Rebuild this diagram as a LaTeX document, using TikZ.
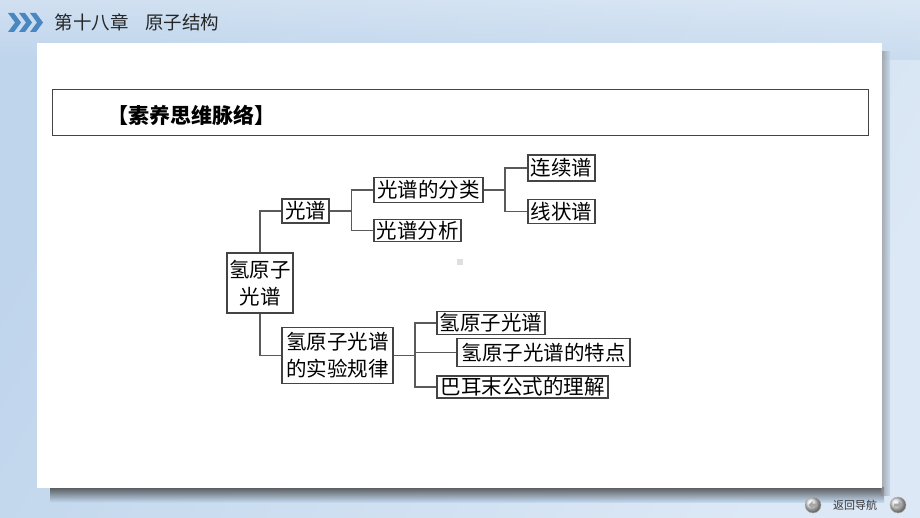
\documentclass[tikz,border=0pt]{standalone}
\usepackage{fontspec}
\setmainfont{Noto Sans CJK SC}
\usetikzlibrary{calc}
\definecolor{bgA}{HTML}{BFD5EC}
\definecolor{bgB}{HTML}{DCE8F5}
\definecolor{boxline}{HTML}{444444}
\definecolor{conn}{HTML}{5A5A5A}
\definecolor{chev}{HTML}{4A86C0}
\tikzset{
  kbox/.style={draw=boxline, line width=1.1pt, fill=white, inner sep=0pt, align=center,
     font=\fontsize{20.5}{27}\selectfont, text=black},
  link/.style={draw=conn, line width=1.1pt},
  chevron/.style={fill=chev},
  navbtn/.style={circle, minimum size=16pt, inner sep=0pt, ball color=gray!25, draw=gray!60, line width=0.4pt}
}
\begin{document}
\begin{tikzpicture}[x=1pt,y=-1pt]
\useasboundingbox (0,0) rectangle (920,518);
% background
\shade[left color=bgA, right color=bgB, shading angle=60] (0,0) rectangle (920,518);
\shade[top color=bgB, bottom color=bgA, opacity=0.6] (0,0) rectangle (920,60);
% panel shadow
\shade[top color=black!75, bottom color=bgA, opacity=0.85] (50,487) rectangle (884,502);
\shade[left color=black!45, right color=bgA, opacity=0.7] (881,52) rectangle (890,495);
% white panel
\fill[white] (37,43) rectangle (882,488);
% header chevrons
\foreach \dx in {0,11,22}{
  \fill[chevron] ($(8,13)+(\dx,0)$) -- ++(6,0) -- ++(7,9.5) -- ++(-7,9.5) -- ++(-6,0) -- ++(7,-9.5) -- cycle;
}
\node[anchor=west, font=\fontsize{18.5}{21}\selectfont, text=black!85] (hdr) at (51,22) {第十八章\hspace{0.9em}原子结构};
% title box
\node[draw=boxline, line width=1pt, minimum width=816pt, minimum height=46pt, inner sep=0pt] (tbox) at (460,113) {};
\node[anchor=west, font=\fontsize{21}{24}\selectfont\bfseries] (title) at (104,115) {【素养思维脉络】};
% nodes
\node[kbox, minimum width=47pt, minimum height=24pt] (guang) at (305.5,211) {光谱};
\node[kbox, minimum width=109pt, minimum height=25pt] (fenlei) at (428.5,190) {光谱的分类};
\node[kbox, minimum width=87pt, minimum height=22pt] (fenxi) at (417.5,230.5) {光谱分析};
\node[kbox, minimum width=67pt, minimum height=26pt] (lianxu) at (561.5,168) {连续谱};
\node[kbox, minimum width=67pt, minimum height=24pt] (xian) at (561.5,211.3) {线状谱};
\node[kbox, minimum width=66pt, minimum height=60pt] (hyd) at (260,283) {氢原子\\光谱};
\node[kbox, minimum width=111pt, minimum height=56pt] (rule) at (337.5,355.3) {氢原子光谱\\的实验规律};
\node[kbox, minimum width=108pt, minimum height=23pt] (hA) at (491,323) {氢原子光谱};
\node[kbox, minimum width=173pt, minimum height=28pt] (hB) at (543.5,352.5) {氢原子光谱的特点};
\node[kbox, minimum width=171pt, minimum height=22pt] (hC) at (522.5,387) {巴耳末公式的理解};
% junctions
\coordinate (j1) at (351.7,211);
\coordinate (j2) at (505,190);
\coordinate (j3) at (415,355.3);
% connectors
\draw[link] (guang.west) -| (hyd.north);
\draw[link] (hyd.south) |- (rule.west);
\draw[link] (guang.east) -- (j1);
\draw[link] (j1) |- (fenlei.west);
\draw[link] (j1) |- (fenxi.west);
\draw[link] (fenlei.east) -- (j2);
\draw[link] (j2) |- (lianxu.west);
\draw[link] (j2) |- (xian.west);
\draw[link] (rule.east) -- (j3);
\draw[link] (j3) |- (hA.west);
\draw[link] (j3) |- (hB.west);
\draw[link] (j3) |- (hC.west);
% small gray mark
\fill[gray!25] (457,259.5) rectangle (462.5,265);
% navigation
\node[navbtn] (prev) at (813,505) {};
\fill[gray!70] ($(prev)+(-4.5,0)$) -- ++(4,-4) -- ++(0,2.5) -- ++(4.5,0) -- ++(0,3) -- ++(-4.5,0) -- ++(0,2.5) -- cycle;
\node[font=\fontsize{11}{13}\selectfont, text=black!80] (navtxt) at (855,505) {返回导航};
\node[navbtn] (next) at (898,505) {};
\fill[gray!70] ($(next)+(4.5,0)$) -- ++(-4,-4) -- ++(0,2.5) -- ++(-4.5,0) -- ++(0,3) -- ++(4.5,0) -- ++(0,2.5) -- cycle;
\end{tikzpicture}
\end{document}
